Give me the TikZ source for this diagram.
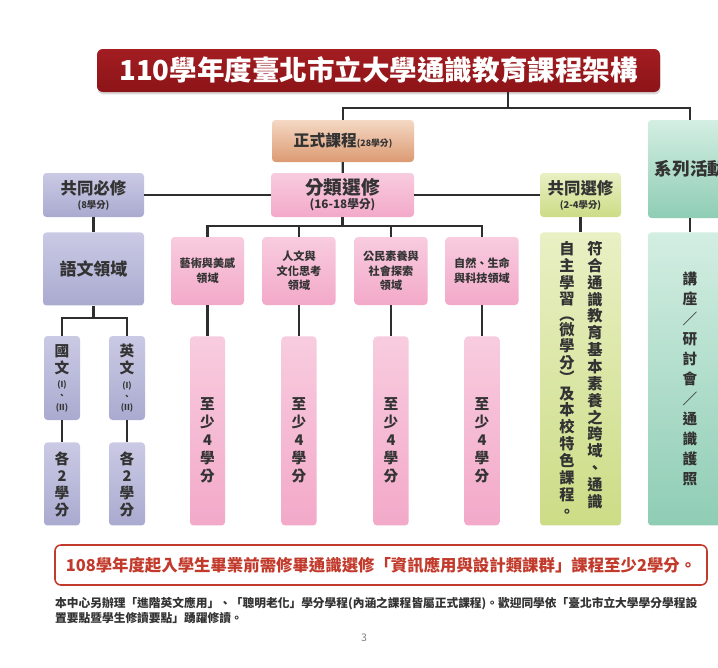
\documentclass[tikz,border=0pt]{standalone}
\usepackage{fontspec}
\setmainfont{Noto Sans CJK TC}
\usetikzlibrary{positioning, shadows}
\definecolor{titlered}{HTML}{A31D21}
\definecolor{titledark}{HTML}{8C1418}
\definecolor{peachtop}{HTML}{F4D8C4}
\definecolor{peachbot}{HTML}{DC9A72}
\definecolor{pinktop}{HTML}{F8CCDF}
\definecolor{pinkbot}{HTML}{F3A9C9}
\definecolor{lavtop}{HTML}{CACAE5}
\definecolor{lavbot}{HTML}{AAAAD0}
\definecolor{limetop}{HTML}{E9F0C4}
\definecolor{limebot}{HTML}{CCDC86}
\definecolor{tealtop}{HTML}{D3EEE2}
\definecolor{tealbot}{HTML}{8FCDB5}
\definecolor{linegray}{HTML}{2E2E2E}
\definecolor{notered}{HTML}{C23A2B}
\definecolor{textgray}{HTML}{333333}

\begin{document}
\begin{tikzpicture}[x=0.03cm, y=-0.03cm,
    sz/.style 2 args={minimum width=#1*0.03cm, minimum height=#2*0.03cm},
    b/.style={rounded corners=3pt, inner sep=0pt, align=center, font=\bfseries, text=textgray},
    lav/.style={b, top color=lavtop, bottom color=lavbot},
    pk/.style={b, top color=pinktop, bottom color=pinkbot},
    lime/.style={b, top color=limetop, bottom color=limebot},
    teal/.style={b, top color=tealtop, bottom color=tealbot},
    e/.style={line width=2pt, draw=linegray}]
    \useasboundingbox (0,0) rectangle (718,668);
    \fill[white] (0,0) rectangle (718,668);

    % title and the two main branches
    \node[b, sz={563}{43}, rounded corners=5pt, top color=titlered, bottom color=titledark,
          drop shadow={opacity=0.3, shadow xshift=0.5pt, shadow yshift=-2pt},
          text=white, font=\fontsize{23.5}{26}\selectfont\bfseries] (title) at (378.5,70.5)
          {110學年度臺北市立大學通識教育課程架構};
    \node[b, sz={142}{42}, top color=peachtop, bottom color=peachbot] (zs) at (343,141)
          {\fontsize{13.5}{15}\selectfont 正式課程{\fontsize{7.5}{9}\selectfont(28學分)}};
    \node[teal, sz={84}{98}, font=\fontsize{15}{17}\selectfont\bfseries] (hd) at (690,169) {系列活動};
    \node[teal, sz={84}{293}, below=0.42cm of hd, font=\fontsize{12.5}{17}\selectfont\bfseries] (hd2)
          {講\\座\\／\\研\\討\\會\\／\\通\\識\\護\\照};

    \coordinate (j0) at (508,108);
    \draw[e] (title.south -| j0) -- (j0);
    \draw[e] (zs.north) |- (j0) -| (hd.north);
    \draw[e] (hd) -- (hd2);

    % second row
    \node[lav, sz={101}{44}] (bx) at (93.5,195)
          {\fontsize{14}{16}\selectfont 共同必修\\\fontsize{8}{13.5}\selectfont(8學分)};
    \node[pk, sz={143}{44}] (fl) at (342.5,195)
          {\fontsize{16}{18}\selectfont 分類選修\\\fontsize{10}{16}\selectfont(16-18學分)};
    \node[lime, sz={81}{44}] (gx) at (580.5,195)
          {\fontsize{14}{16}\selectfont 共同選修\\\fontsize{8}{13.5}\selectfont(2-4學分)};
    \draw[e] (zs) -- (fl);
    \draw[e] (bx.east) -- (fl.west);
    \draw[e] (fl.east) -- (gx.west);

    % language area
    \node[lav, sz={101}{73}, below=0.45cm of bx, font=\fontsize{14.5}{16}\selectfont\bfseries] (yw) {語文領域};
    \draw[e] (bx) -- (yw);
    \node[lav, sz={36}{84}, font=\fontsize{12.5}{14.5}\selectfont\bfseries] (gw) at (62,378)
          {國\\文\\[-2pt]{\fontsize{7}{8}\selectfont(I)}\\[-5pt]{\fontsize{7}{8}\selectfont 、}\\[-5pt]{\fontsize{7}{8}\selectfont(II)}};
    \node[lav, sz={36}{84}, font=\fontsize{12.5}{14.5}\selectfont\bfseries] (ew) at (127,378)
          {英\\文\\[-2pt]{\fontsize{7}{8}\selectfont(I)}\\[-5pt]{\fontsize{7}{8}\selectfont 、}\\[-5pt]{\fontsize{7}{8}\selectfont(II)}};
    \node[lav, sz={36}{83}, below=0.66cm of gw, font=\fontsize{12.5}{14.5}\selectfont\bfseries] (g2) {各\\2\\學\\分};
    \node[lav, sz={36}{83}, below=0.66cm of ew, font=\fontsize{12.5}{14.5}\selectfont\bfseries] (e2) {各\\2\\學\\分};
    \coordinate (j2) at (93.5,318);
    \draw[e] (yw) -- (j2);
    \draw[e] (gw.north) |- (j2) -| (ew.north);
    \draw[e] (gw) -- (g2);
    \draw[e] (ew) -- (e2);

    % elective areas
    \coordinate (j1) at (342.5,226);
    \draw[e] (fl) -- (j1);
    \foreach \i/\xx/\txt in {1/207.5/{藝術與美感\\領域}, 2/299/{人文與\\文化思考\\領域},
                             3/391/{公民素養與\\社會探索\\領域}, 4/482/{自然、生命\\與科技領域}}
    {
        \node[pk, sz={73}{68}, font=\fontsize{9.5}{12.5}\selectfont\bfseries] (a\i) at (\xx,271) {\txt};
        \node[pk, sz={35}{189}, below=0.93cm of a\i] (m\i) {};
        \node[text=textgray, align=center, font=\fontsize{12.5}{15.5}\selectfont\bfseries]
              (t\i) at ([yshift=-8pt]m\i.center) {至\\少\\4\\學\\分};
        \draw[e] (j1) -| (a\i.north);
        \draw[e] (a\i) -- (m\i);
    }

    % common elective
    \node[lime, sz={81}{293}, below=0.45cm of gx] (gx2) {};
    \draw[e] (gx) -- (gx2);
    \node[anchor=north, align=center, inner sep=0pt, text=textgray,
          font=\fontsize{13}{14.4}\selectfont\bfseries] (gr) at (595,241)
          {符\\合\\通\\識\\教\\育\\基\\本\\素\\養\\之\\跨\\域\\、\\通\\識};
    \node[anchor=north, align=center, inner sep=0pt, text=textgray,
          font=\fontsize{13}{14.4}\selectfont\bfseries] (gl) at (567,241)
          {自\\主\\學\\習\\[-1.5pt]︵\\[-1.5pt]微\\學\\分\\[-1.5pt]︶\\[-1.5pt]及\\本\\校\\特\\色\\課\\程\\。};

    % notes
    \node[draw=notered, line width=1.3pt, rounded corners=5pt, sz={652}{40}, inner sep=0pt,
          text=notered, font=\fontsize{14}{16}\selectfont\bfseries] (req) at (381,565)
          {108學年度起入學生畢業前需修畢通識選修「資訊應用與設計類課群」課程至少2學分。};
    \node[anchor=north west, align=left, inner sep=0pt, text=textgray,
          font=\fontsize{10}{13}\selectfont\bfseries] (note) at (55,597)
          {本中心另辦理「進階英文應用」、「聰明老化」學分學程(內涵之課程皆屬正式課程)。歡迎同學依「臺北市立大學學分學程設\\
           置要點暨學生修讀要點」踴躍修讀。};
    \node[text=gray, font=\fontsize{9}{10}\selectfont] (page) at (364,638) {3};
\end{tikzpicture}
\end{document}
